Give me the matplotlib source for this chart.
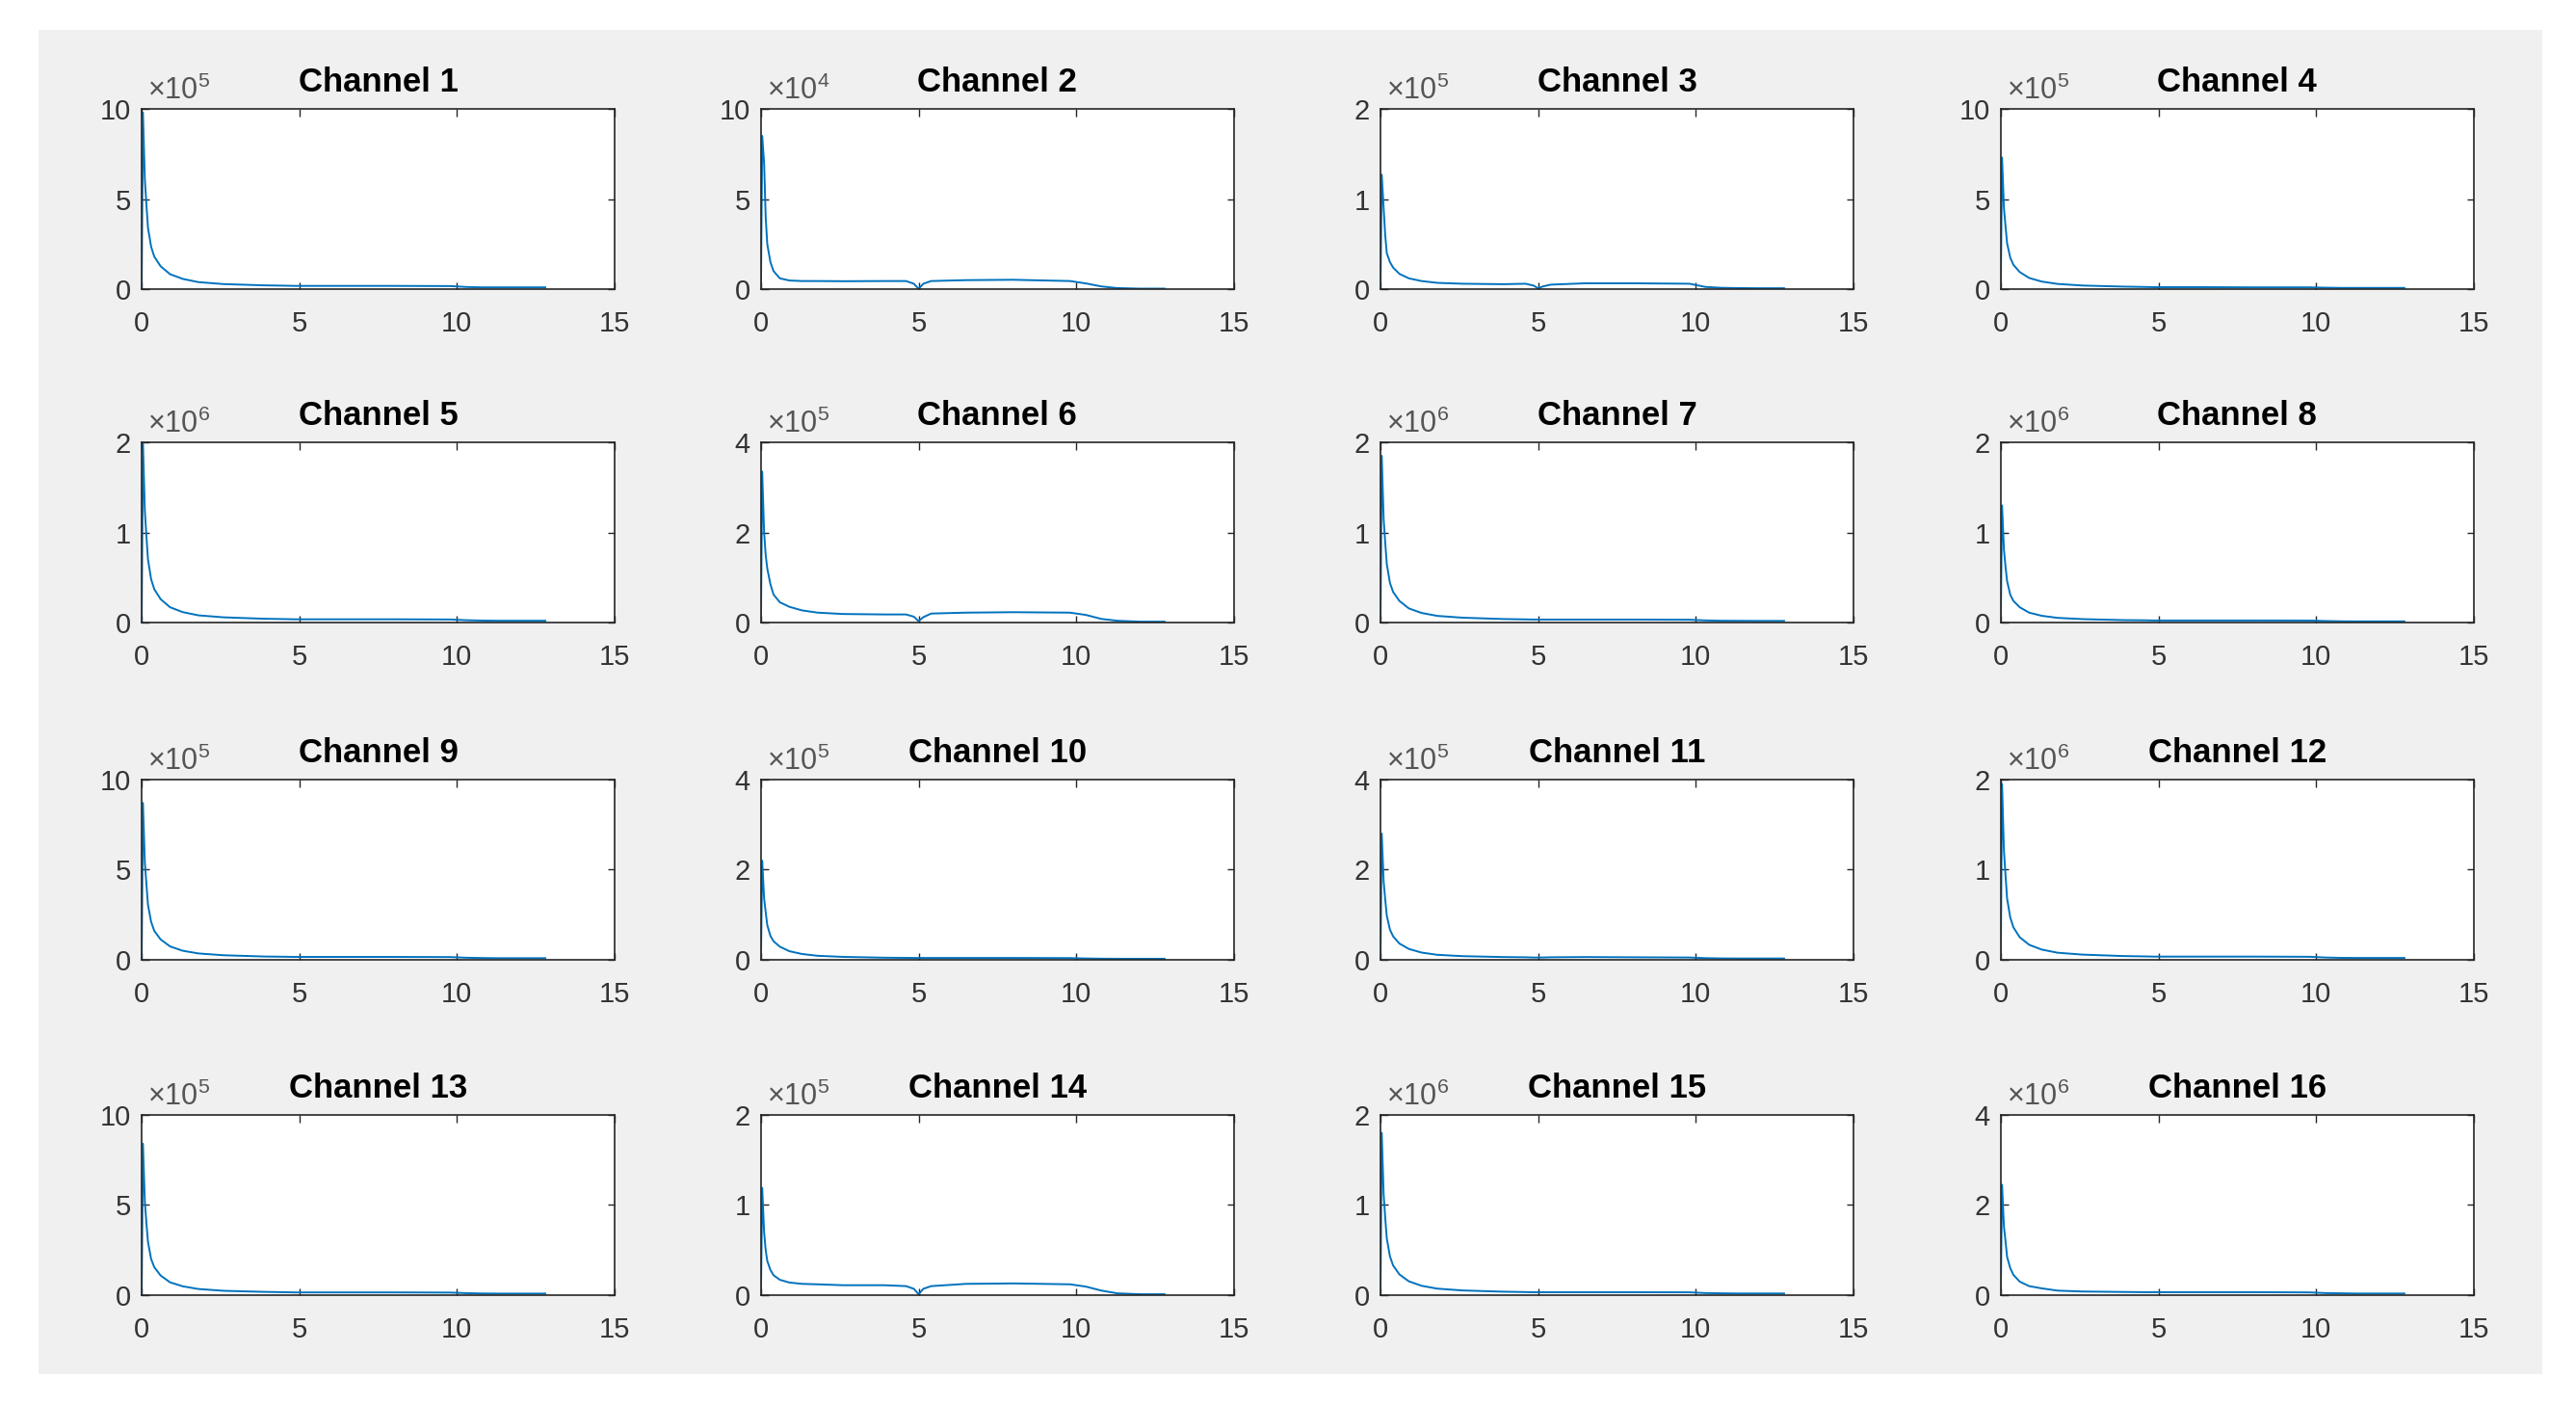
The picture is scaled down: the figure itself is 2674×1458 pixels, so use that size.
import matplotlib.pyplot as plt
from matplotlib.patches import Rectangle

plt.rcParams["font.family"] = ["Liberation Sans", "DejaVu Sans"]
plt.rcParams["mathtext.fontset"] = "custom"
plt.rcParams["mathtext.rm"] = "Liberation Sans"

# frequency axis shared by all channels
freq = [0, 0.04, 0.1, 0.15, 0.2, 0.3, 0.4, 0.6, 0.9, 1.3, 1.8, 2.6, 3.9,
        4.6, 4.85, 5.0, 5.15, 5.4, 6.5, 8, 9.8, 10.3, 10.8, 11.3, 12, 12.8]

# spectra per channel, in units of 10^exponent
ch1 = [0, 9.8, 6.1, 4.7, 3.4, 2.35, 1.8, 1.27, 0.83, 0.57, 0.39, 0.28, 0.21,
       0.19, 0.18, 0.18, 0.18, 0.18, 0.18, 0.18, 0.17, 0.12, 0.1, 0.1, 0.1, 0.1]
ch2 = [0, 8.5, 7.0, 4.0, 2.5, 1.5, 1.0, 0.6, 0.48, 0.45, 0.45, 0.44, 0.45,
       0.45, 0.3, 0.02, 0.3, 0.45, 0.5, 0.52, 0.45, 0.32, 0.15, 0.06, 0.03, 0.03]
ch3 = [0, 1.27, 0.9, 0.6, 0.4, 0.3, 0.24, 0.17, 0.12, 0.09, 0.07, 0.06, 0.055,
       0.06, 0.04, 0.01, 0.03, 0.05, 0.065, 0.065, 0.06, 0.025, 0.015, 0.012, 0.01, 0.01]
ch4 = [0, 7.3, 4.5, 3.5, 2.55, 1.75, 1.35, 0.95, 0.62, 0.42, 0.29, 0.2, 0.14,
       0.12, 0.11, 0.11, 0.11, 0.11, 0.11, 0.1, 0.1, 0.08, 0.07, 0.07, 0.07, 0.07]
ch5 = [0, 2.0, 1.24, 0.96, 0.7, 0.48, 0.37, 0.26, 0.17, 0.116, 0.08, 0.058, 0.042,
       0.038, 0.036, 0.036, 0.036, 0.036, 0.036, 0.036, 0.034, 0.026, 0.022, 0.02, 0.02, 0.02]
ch6 = [0, 3.35, 2.0, 1.5, 1.2, 0.85, 0.62, 0.45, 0.35, 0.27, 0.22, 0.19, 0.18,
       0.18, 0.13, 0.03, 0.12, 0.2, 0.22, 0.23, 0.22, 0.17, 0.08, 0.04, 0.02, 0.02]
ch7 = [0, 1.85, 1.15, 0.89, 0.65, 0.44, 0.34, 0.24, 0.157, 0.107, 0.074, 0.054, 0.039,
       0.035, 0.033, 0.033, 0.033, 0.033, 0.033, 0.033, 0.031, 0.024, 0.02, 0.019, 0.018, 0.018]
ch8 = [0, 1.3, 0.81, 0.62, 0.46, 0.31, 0.24, 0.17, 0.11, 0.075, 0.052, 0.038, 0.027,
       0.025, 0.023, 0.023, 0.023, 0.023, 0.023, 0.023, 0.022, 0.017, 0.014, 0.013, 0.013, 0.013]
ch9 = [0, 8.7, 5.4, 4.2, 3.05, 2.1, 1.6, 1.13, 0.74, 0.5, 0.35, 0.25, 0.18,
       0.165, 0.157, 0.157, 0.157, 0.157, 0.157, 0.157, 0.148, 0.113, 0.096, 0.087, 0.087, 0.087]
ch10 = [0, 2.2, 1.36, 1.06, 0.77, 0.53, 0.41, 0.29, 0.19, 0.128, 0.088, 0.064, 0.046,
        0.042, 0.04, 0.04, 0.04, 0.04, 0.04, 0.04, 0.037, 0.029, 0.024, 0.022, 0.022, 0.022]
ch11 = [0, 2.8, 1.74, 1.34, 0.98, 0.67, 0.52, 0.36, 0.24, 0.16, 0.11, 0.08, 0.06,
        0.055, 0.05, 0.05, 0.05, 0.055, 0.06, 0.055, 0.05, 0.036, 0.03, 0.028, 0.028, 0.028]
ch12 = [0, 1.95, 1.21, 0.94, 0.68, 0.47, 0.36, 0.25, 0.166, 0.113, 0.078, 0.057, 0.041,
        0.037, 0.035, 0.035, 0.035, 0.035, 0.035, 0.035, 0.033, 0.025, 0.021, 0.02, 0.02, 0.02]
ch13 = [0, 8.4, 5.2, 4.0, 2.95, 2.0, 1.55, 1.09, 0.71, 0.49, 0.34, 0.24, 0.18,
        0.16, 0.15, 0.15, 0.15, 0.15, 0.15, 0.15, 0.14, 0.11, 0.09, 0.085, 0.085, 0.085]
ch14 = [0, 1.19, 0.7, 0.5, 0.38, 0.28, 0.22, 0.17, 0.14, 0.125, 0.12, 0.11, 0.11,
        0.1, 0.07, 0.01, 0.07, 0.1, 0.125, 0.13, 0.12, 0.095, 0.05, 0.02, 0.01, 0.01]
ch15 = [0, 1.8, 1.12, 0.86, 0.63, 0.43, 0.33, 0.23, 0.153, 0.104, 0.072, 0.052, 0.038,
        0.034, 0.032, 0.032, 0.032, 0.032, 0.032, 0.032, 0.031, 0.023, 0.02, 0.018, 0.018, 0.018]
ch16 = [0, 2.45, 1.52, 1.2, 0.85, 0.6, 0.45, 0.3, 0.2, 0.15, 0.1, 0.08, 0.07,
        0.065, 0.065, 0.065, 0.065, 0.065, 0.065, 0.065, 0.06, 0.045, 0.04, 0.035, 0.035, 0.035]

channels = [ch1, ch2, ch3, ch4, ch5, ch6, ch7, ch8,
            ch9, ch10, ch11, ch12, ch13, ch14, ch15, ch16]
exponents = [5, 4, 5, 5, 6, 5, 6, 6, 5, 5, 5, 6, 5, 5, 6, 6]
ymax = [10, 10, 2, 10, 2, 4, 2, 2, 10, 4, 4, 2, 10, 2, 2, 4]
xticks = [0, 5, 10, 15]

fig = plt.figure(figsize=(26.74, 14.58), dpi=100, facecolor="white")
fig.patches.append(Rectangle((0.015, 0.022), 0.972, 0.957, transform=fig.transFigure,
                             facecolor="#f0f0f0", edgecolor="none", zorder=-1))

lefts = [0.0550, 0.2954, 0.5359, 0.7767]
bottoms = [0.7942, 0.5569, 0.3169, 0.0782]
w, h = 0.1836, 0.1283

for i, y in enumerate(channels):
    r, c = divmod(i, 4)
    ax = fig.add_axes([lefts[c], bottoms[r], w, h])
    ax.plot(freq, y, color="#0072BD", lw=1.4)
    ax.set_xlim(0, 15)
    ax.set_ylim(0, ymax[i])
    ax.set_xticks(xticks)
    ax.set_yticks([0, ymax[i] / 2, ymax[i]])
    ax.set_yticklabels([str(int(v)) for v in [0, ymax[i] / 2, ymax[i]]])
    ax.tick_params(direction="in", length=5.4, width=1, color="#262626",
                   labelsize=21, labelcolor="#333333", top=True, right=True)
    ax.tick_params(axis="x", pad=16)
    ax.tick_params(axis="y", pad=8)
    for s in ax.spines.values():
        s.set_linewidth(1.2)
        s.set_color("#262626")
    ax.set_title(f"Channel {i + 1}", fontsize=25, fontweight="bold", pad=13)
    ax.text(0.012, 1.015, r"$\times10^{%d}$" % exponents[i], transform=ax.transAxes,
            ha="left", va="bottom", fontsize=22, color="#555555")

fig.savefig("out.png", dpi=100)
